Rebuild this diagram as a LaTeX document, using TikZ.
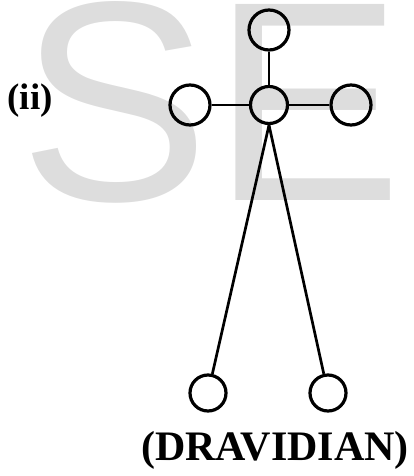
\documentclass[tikz,border=0pt]{standalone}
\usepackage{fontspec}
\setmainfont{Liberation Serif}
\newfontfamily\markfont{Liberation Sans}
\usetikzlibrary{positioning}

\begin{document}
\begin{tikzpicture}[
    x=1pt, y=-1pt,
    ring/.style={circle, draw=black, line width=3.2pt, minimum size=40pt, inner sep=0pt},
    hubring/.style={ring, minimum size=37pt},
    footring/.style={ring, minimum size=36pt},
    bond/.style={line width=2.7pt},
    wmark/.style={inner sep=0pt, anchor=base west, text=wm, font=\markfont\fontsize{285}{285}\selectfont},
    caption/.style={inner sep=0pt, anchor=base, font=\bfseries}
]
\definecolor{wm}{RGB}{221,221,221}
\clip (0,0) rectangle (413,476);

\node[wmark] (wmS) at (19,200) {S};
\node[wmark] (wmE) at (212,200) {E};

\node[ring] (top) at (269,30) {};
\node[hubring] (hub) at (269,105) {};
\node[ring] (left) at (190,105) {};
\node[ring] (right) at (351,105) {};
\node[footring] (footL) at (208,393) {};
\node[footring] (footR) at (328,393) {};

\draw[bond] (hub) -- (top);
\draw[bond] (hub) -- (left);
\draw[bond] (hub) -- (right);
\draw[bond] (hub.south) -- (footL);
\draw[bond] (hub.south) -- (footR);

\node[caption, font=\bfseries\fontsize{37}{37}\selectfont] (tag) at (30,110) {(ii)};
\node[caption, font=\bfseries\fontsize{42}{42}\selectfont] (name) at (275,460) {(DRAVIDIAN)};
\end{tikzpicture}
\end{document}
